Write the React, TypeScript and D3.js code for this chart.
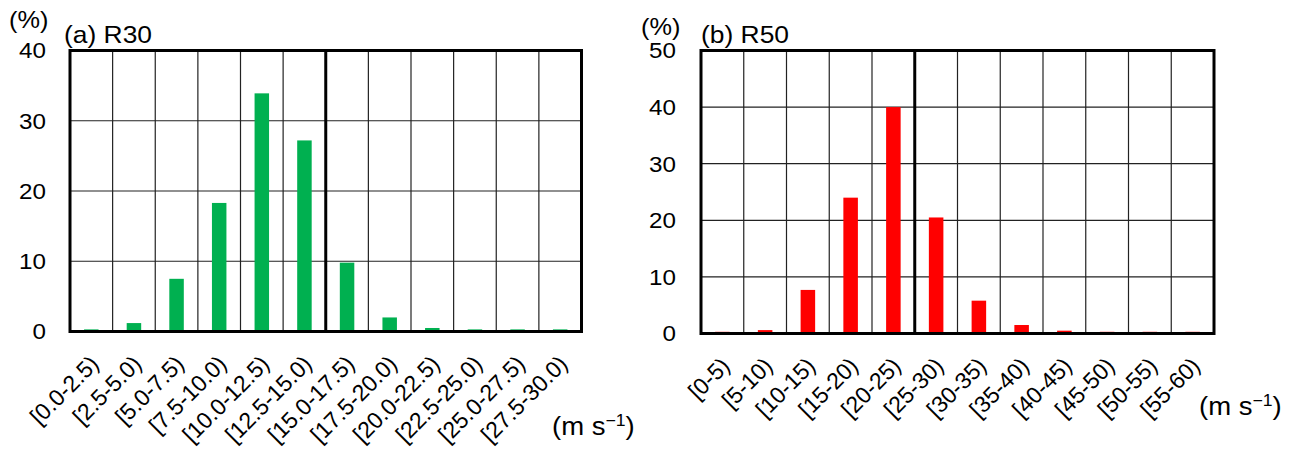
import React from "react";
import * as d3 from "d3";

const r30Categories = ["[0.0-2.5)", "[2.5-5.0)", "[5.0-7.5)", "[7.5-10.0)", "[10.0-12.5)", "[12.5-15.0)", "[15.0-17.5)", "[17.5-20.0)", "[20.0-22.5)", "[22.5-25.0)", "[25.0-27.5)", "[27.5-30.0)"];
const r30Values = [0.3, 1.2, 7.5, 18.3, 33.9, 27.2, 9.8, 2.0, 0.5, 0.3, 0.3, 0.3];
const r30Ticks = [0, 10, 20, 30, 40];

const r50Categories = ["[0-5)", "[5-10)", "[10-15)", "[15-20)", "[20-25)", "[25-30)", "[30-35)", "[35-40)", "[40-45)", "[45-50)", "[50-55)", "[55-60)"];
const r50Values = [0.3, 0.6, 7.7, 24.0, 40.0, 20.5, 5.8, 1.5, 0.5, 0.3, 0.3, 0.3];
const r50Ticks = [0, 10, 20, 30, 40, 50];

const FONT = "'Liberation Sans', Arial, sans-serif";

type PanelProps = {
  left: number; right: number; top: number; bottom: number;
  cats: string[]; values: number[]; ticks: number[];
  color: string; divider: number; title: string;
  pctX: number; pctY: number; titleX: number; titleY: number;
  tickX: number; unitX: number; unitY: number;
};

const SX = 1.1;

function Panel(p: PanelProps) {
  const x = d3.scaleBand<string>().domain(p.cats).range([p.left, p.right]).padding(0);
  const y = d3.scaleLinear().domain([0, d3.max(p.ticks) as number]).range([p.bottom, p.top]);
  const bw = x.bandwidth() * 0.34;
  const divX = (x(p.cats[p.divider]) as number);
  return (
    <g fontFamily={FONT} fill="#000">
      {p.ticks.map((t) => (
        <line key={"h" + t} x1={p.left} x2={p.right} y1={y(t)} y2={y(t)} stroke="#222" strokeWidth={1.2} />
      ))}
      {p.cats.slice(1).map((c) => (
        <line key={"v" + c} x1={x(c)} x2={x(c)} y1={p.top} y2={p.bottom} stroke="#222" strokeWidth={1.2} />
      ))}
      {p.cats.map((c, i) => (
        <rect key={"b" + c}
          x={(x(c) as number) + x.bandwidth() / 2 - bw / 2}
          y={y(p.values[i])}
          width={bw}
          height={p.bottom - y(p.values[i])}
          fill={p.color} />
      ))}
      <line x1={divX} x2={divX} y1={p.top} y2={p.bottom} stroke="#000" strokeWidth={3} />
      <rect x={p.left} y={p.top} width={p.right - p.left} height={p.bottom - p.top} fill="none" stroke="#000" strokeWidth={3} />
      {p.ticks.map((t) => (
        <text key={"t" + t} transform={`translate(${p.tickX},${y(t)}) scale(${SX},1)`} dy="0.36em" textAnchor="end" fontSize={22}>{t}</text>
      ))}
      {p.cats.map((c) => {
        const cx = (x(c) as number) + x.bandwidth() / 2;
        return (
          <text key={"x" + c} transform={`translate(${cx + 3},${p.bottom + 28}) rotate(-45)`}
            textAnchor="end" dy="0.36em" fontSize={23}>{c}</text>
        );
      })}
      <text transform={`translate(${p.pctX},${p.pctY}) scale(${SX},1)`} fontSize={23}>(%)</text>
      <text transform={`translate(${p.titleX},${p.titleY}) scale(${SX},1)`} fontSize={24} style={{ whiteSpace: "pre" }}>{p.title}</text>
      <text transform={`translate(${p.unitX},${p.unitY}) scale(${SX},1)`} fontSize={25}>
        (m s<tspan fontSize={16} dy={-9}>−1</tspan><tspan dy={9}>)</tspan>
      </text>
    </g>
  );
}

export default function App() {
  return (
    <svg width={1296} height={466} style={{ position: "absolute", left: 0, top: 0, background: "#fff" }}>
      <rect width={1296} height={466} fill="#fff" />
      <Panel left={70} right={581.5} top={50.5} bottom={331.5}
        cats={r30Categories} values={r30Values} ticks={r30Ticks}
        color="#00B050" divider={6} title="(a) R30"
        pctX={9} pctY={28} titleX={64} titleY={43}
        tickX={46} unitX={552} unitY={435} />
      <Panel left={701} right={1214} top={50.5} bottom={333.5}
        cats={r50Categories} values={r50Values} ticks={r50Ticks}
        color="#FF0000" divider={5} title="(b) R50"
        pctX={641} pctY={35} titleX={701} titleY={43}
        tickX={676} unitX={1199} unitY={415} />
    </svg>
  );
}
